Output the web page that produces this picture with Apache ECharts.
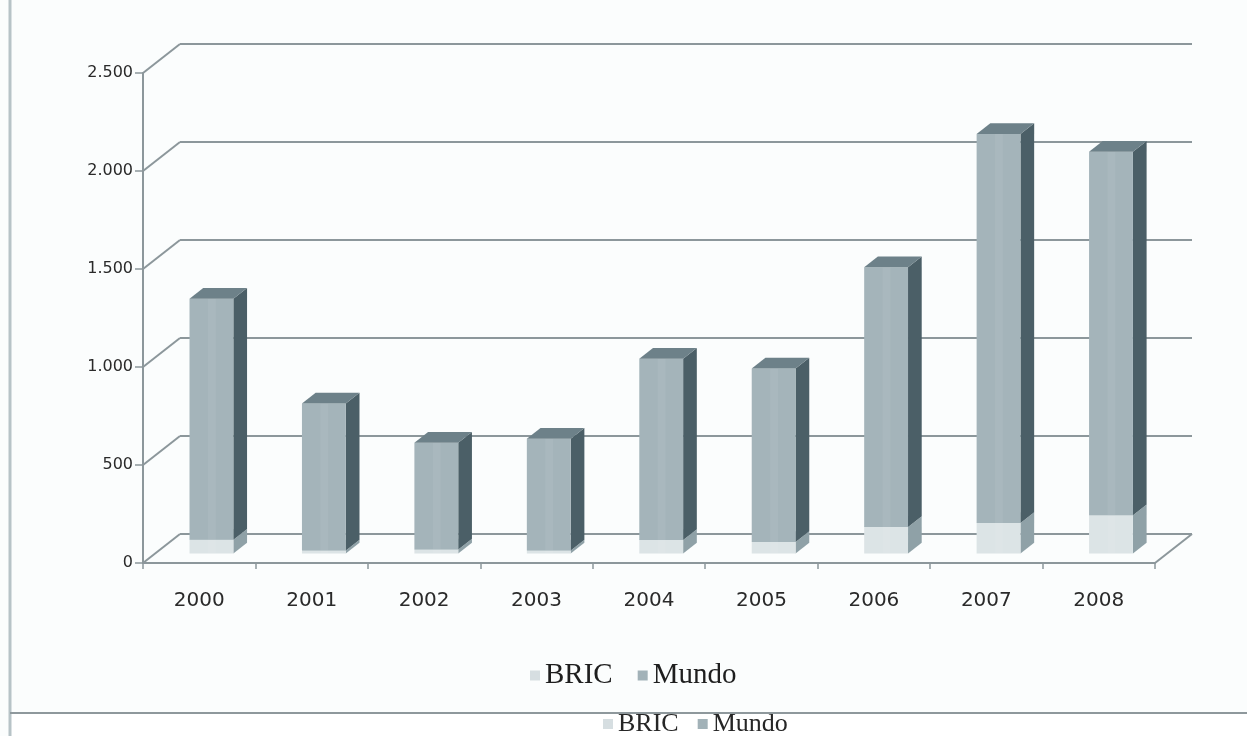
<!DOCTYPE html>
<html>
<head>
<meta charset="utf-8">
<script src="https://cdn.jsdelivr.net/npm/echarts@6/dist/echarts.min.js"></script>
<style>
  html, body { margin: 0; padding: 0; background: #ffffff; }
  #chart { width: 1247px; height: 736px; }
</style>
</head>
<body>
<div id="chart"></div>
<script>
// Years on the category axis
const years = ['2000', '2001', '2002', '2003', '2004', '2005', '2006', '2007', '2008'];
// Stacked segments: BRIC at the base, Mundo on top of it
const bric = [70, 15, 20, 15, 68, 58, 135, 155, 195];
const mundo = [1230, 750, 545, 570, 925, 885, 1325, 1985, 1855];
// Value-axis ticks
const yTicks = [0, 500, 1000, 1500, 2000, 2500];

// Oblique depth of the 3D box (pixels) and where a column sits inside it
const DEPTH = [37, -29];
const BAR_FRONT = 0.33;
const BAR_BACK = 0.70;
const BAR_WIDTH = 0.39;

const COLORS = {
  BRIC:  { front: '#dce4e6', side: '#8fa1a7', top: '#bfcbcf' },
  Mundo: { front: '#a4b4ba', side: '#4b5f67', top: '#6d8189' }
};

function fmt(v) {
  return String(v).replace(/\B(?=(\d{3})+(?!\d))/g, '.');
}

// Draws one column segment as front face, right side and top face
function columnRenderer(c) {
  return function (params, api) {
    const i = api.value(0);
    const lo = api.value(1);
    const hi = api.value(2);
    const band = api.size([1, 0])[0];
    const pLo = api.coord([i, lo]);
    const pHi = api.coord([i, hi]);
    const w = band * BAR_WIDTH;
    const fx = DEPTH[0] * BAR_FRONT, fy = DEPTH[1] * BAR_FRONT;
    const dx = DEPTH[0] * (BAR_BACK - BAR_FRONT), dy = DEPTH[1] * (BAR_BACK - BAR_FRONT);
    const xl = pLo[0] - w / 2 + fx, xr = xl + w;
    const yb = pLo[1] + fy, yt = pHi[1] + fy;
    return {
      type: 'group',
      children: [
        { type: 'polygon', shape: { points: [[xr, yb], [xr + dx, yb + dy], [xr + dx, yt + dy], [xr, yt]] },
          style: { fill: c.side } },
        { type: 'rect', shape: { x: xl, y: yt, width: w, height: yb - yt },
          style: { fill: c.front } },
        { type: 'rect', shape: { x: xl + w * 0.42, y: yt, width: w * 0.18, height: yb - yt },
          style: { fill: 'rgba(255,255,255,0.06)' } },
        { type: 'polygon', shape: { points: [[xl, yt], [xr, yt], [xr + dx, yt + dy], [xl + dx, yt + dy]] },
          style: { fill: c.top } }
      ]
    };
  };
}

// Back wall gridlines, left-wall diagonals and the floor's right edge
function wallRenderer(params, api) {
  const cs = params.coordSys;
  const v = api.value(1);
  const y = api.coord([0, v])[1];
  const x0 = cs.x, x1 = cs.x + cs.width;
  const line = { stroke: '#8c979b', lineWidth: 2 };
  const children = [
    { type: 'line', shape: { x1: x0, y1: y, x2: x0 + DEPTH[0], y2: y + DEPTH[1] }, style: line },
    { type: 'line', shape: { x1: x0 + DEPTH[0], y1: y + DEPTH[1], x2: x1 + DEPTH[0], y2: y + DEPTH[1] }, style: line }
  ];
  if (v === 0) {
    children.push({ type: 'line', shape: { x1: x1, y1: y, x2: x1 + DEPTH[0], y2: y + DEPTH[1] }, style: line });
  }
  return { type: 'group', children: children };
}

const bricData = years.map((_, i) => [i, 0, bric[i]]);
const mundoData = years.map((_, i) => [i, bric[i], bric[i] + mundo[i]]);
const wallData = yTicks.map(v => [0, v]);

const chart = echarts.init(document.getElementById('chart'), null, { renderer: 'canvas' });

chart.setOption({
  backgroundColor: '#fbfdfd',
  animation: false,
  grid: { left: 143, right: 92, top: 73, bottom: 173, containLabel: false },
  xAxis: {
    type: 'category',
    data: years,
    boundaryGap: true,
    axisLine: { show: true, lineStyle: { color: '#8c979b', width: 2 } },
    axisTick: { show: true, length: 6, lineStyle: { color: '#8c979b', width: 1.5 } },
    axisLabel: { margin: 28, fontFamily: 'DejaVu Sans', fontSize: 20, color: '#2a2a2a' },
    splitLine: { show: false }
  },
  yAxis: {
    type: 'value',
    min: yTicks[0],
    max: yTicks[yTicks.length - 1],
    interval: yTicks[1] - yTicks[0],
    axisLine: { show: true, lineStyle: { color: '#8c979b', width: 2 } },
    axisTick: { show: true, length: 8, lineStyle: { color: '#8c979b', width: 1.5 } },
    axisLabel: { margin: 10, fontFamily: 'DejaVu Sans', fontSize: 16, color: '#2a2a2a', formatter: fmt },
    splitLine: { show: false }
  },
  legend: [
    {
      data: ['BRIC', 'Mundo'],
      left: 525, top: 656,
      icon: 'rect', itemWidth: 10, itemHeight: 10, itemGap: 25,
      textStyle: { fontFamily: 'Liberation Serif', fontSize: 29, color: '#1e1e1e' }
    },
    {
      data: ['BRIC', 'Mundo'],
      left: 598, top: 706,
      icon: 'rect', itemWidth: 10, itemHeight: 10, itemGap: 19,
      textStyle: { fontFamily: 'Liberation Serif', fontSize: 26, color: '#262626' }
    }
  ],
  graphic: [
    { type: 'line', shape: { x1: 10, y1: 0, x2: 10, y2: 736 }, style: { stroke: '#b7c3c7', lineWidth: 3 }, z: 100 },
    { type: 'line', shape: { x1: 10, y1: 713, x2: 1247, y2: 713 }, style: { stroke: '#8e989c', lineWidth: 2 }, z: 100 },
    { type: 'rect', shape: { x: 11, y: 714, width: 1236, height: 22 }, style: { fill: '#ffffff' }, z: -1 }
  ],
  series: [
    {
      type: 'custom', name: 'walls', data: wallData, renderItem: wallRenderer,
      encode: { x: 0, y: 1 }, clip: false, z: 1, silent: true
    },
    {
      type: 'custom', name: 'BRIC', data: bricData, renderItem: columnRenderer(COLORS.BRIC),
      encode: { x: 0, y: [1, 2] }, clip: false, z: 2,
      itemStyle: { color: '#d6dee1' }
    },
    {
      type: 'custom', name: 'Mundo', data: mundoData, renderItem: columnRenderer(COLORS.Mundo),
      encode: { x: 0, y: [1, 2] }, clip: false, z: 3,
      itemStyle: { color: '#a2b2b8' }
    }
  ]
});
</script>
</body>
</html>
